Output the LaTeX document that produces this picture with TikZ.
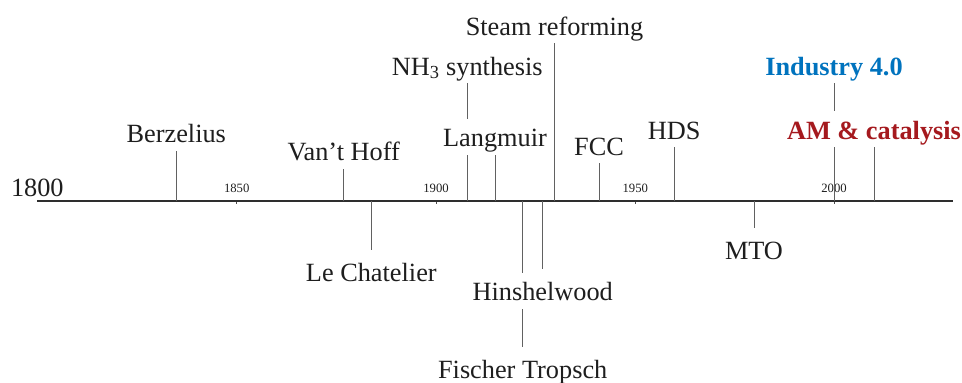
\documentclass[tikz,border=0pt]{standalone}
\usepackage{fontspec}
\setmainfont{Liberation Serif}
\pgfdeclarelayer{bg}
\pgfsetlayers{bg,main}
\definecolor{indblue}{RGB}{0,115,190}
\definecolor{amred}{RGB}{165,25,30}
\definecolor{txt}{RGB}{30,30,30}
\begin{document}
\begin{tikzpicture}[x=1pt,y=-1pt,
  bigfont/.style={font=\fontsize{26.3}{30}\selectfont},
  lab/.style={anchor=base, bigfont, text=txt, text height=20pt, text depth=0pt, inner ysep=8pt, inner xsep=2pt, fill=white},
  boldlab/.style={lab, font=\fontsize{26.3}{30}\selectfont\bfseries},
  yr/.style={anchor=base, font=\fontsize{12.7}{14}\selectfont, text=txt, inner sep=0pt},
  evline/.style={draw=black!62, line width=0.9pt},
  axisline/.style={draw=black!82, line width=1.1pt},
  tickline/.style={draw=black!70, line width=0.6pt},
  downline/.style={evline, shorten >=3.3pt}]
\useasboundingbox (0,0) rectangle (962,383);

% axis
\coordinate (ax0) at (37.3,201);
\coordinate (ax1) at (953,201);
\node[anchor=base, bigfont, text=txt, inner sep=0pt] (y1800) at (37.3,196) {1800};

% labels above
\node[lab] (berz) at (176.3,142.3) {Berzelius};
\node[lab] (vant) at (343.7,160.7) {Van’t Hoff};
\node[lab] (nh3)  at (467.3,75) {NH\textsubscript{3} synthesis};
\node[lab] (steam) at (554.5,35) {Steam reforming};
\node[lab] (fcc)  at (599,155) {FCC};
\node[lab] (hds)  at (674.3,139) {HDS};
\node[boldlab, text=indblue] (ind) at (834,75) {Industry 4.0};
% labels below
\node[lab] (lech) at (371.3,281.7) {Le Chatelier};
\node[lab] (mto)  at (754,259.3) {MTO};
\node[lab] (fisch) at (522.7,378.3) {Fischer Tropsch};

% axis points
\coordinate (pberz) at (176.3,201);
\coordinate (pvant) at (343.7,201);
\coordinate (plech) at (371.3,201);
\coordinate (pnh3) at (467.3,201);
\coordinate (plang) at (495,201);
\coordinate (pfisch) at (522.7,201);
\coordinate (phins) at (542.7,201);
\coordinate (psteam) at (554.5,201);
\coordinate (pfcc) at (599,201);
\coordinate (phds) at (674.3,201);
\coordinate (pmto) at (754,201);
\coordinate (pind) at (834,201);
\coordinate (pam) at (874,201);

\begin{pgfonlayer}{bg}
  % year ticks and labels
  \foreach \x/\yy in {236.7/1850, 436/1900, 635.3/1950, 834/2000}{
    \coordinate (t\yy a) at (\x,201);
    \coordinate (t\yy b) at (\x,203.8);
    \draw[tickline] (t\yy a) -- (t\yy b);
    \node[yr] (yl\yy) at (\x,192.2) {\yy};
  }
  \draw[axisline] (ax0) -- (ax1);
  % event lines above
  \draw[evline] (pberz) -- (berz.south);
  \draw[evline] (pvant) -- (vant.south);
  \draw[evline] (pnh3) -- (nh3.south);
  \draw[evline] (psteam) -- (steam.south);
  \draw[evline] (pfcc) -- (fcc.south);
  \draw[evline] (phds) -- (hds.south);
  \draw[evline] (pind) -- (ind.south);
  % event lines below
  \draw[downline] (plech) -- (lech.north);
  \draw[downline] (pmto) -- (mto.north);
  \draw[downline] (pfisch) -- (fisch.north);
\end{pgfonlayer}

% labels that cover other lines
\node[lab] (lang) at (495,146.7) {Langmuir};
\node[boldlab, text=amred] (am) at (874,139) {AM \& catalysis};
\node[lab] (hins) at (542.7,300.7) {Hinshelwood};

\begin{pgfonlayer}{bg}
  \draw[evline] (plang) -- (lang.south);
  \draw[evline] (pam) -- (am.south);
  \draw[downline] (phins) -- (hins.north);
\end{pgfonlayer}
\end{tikzpicture}
\end{document}
